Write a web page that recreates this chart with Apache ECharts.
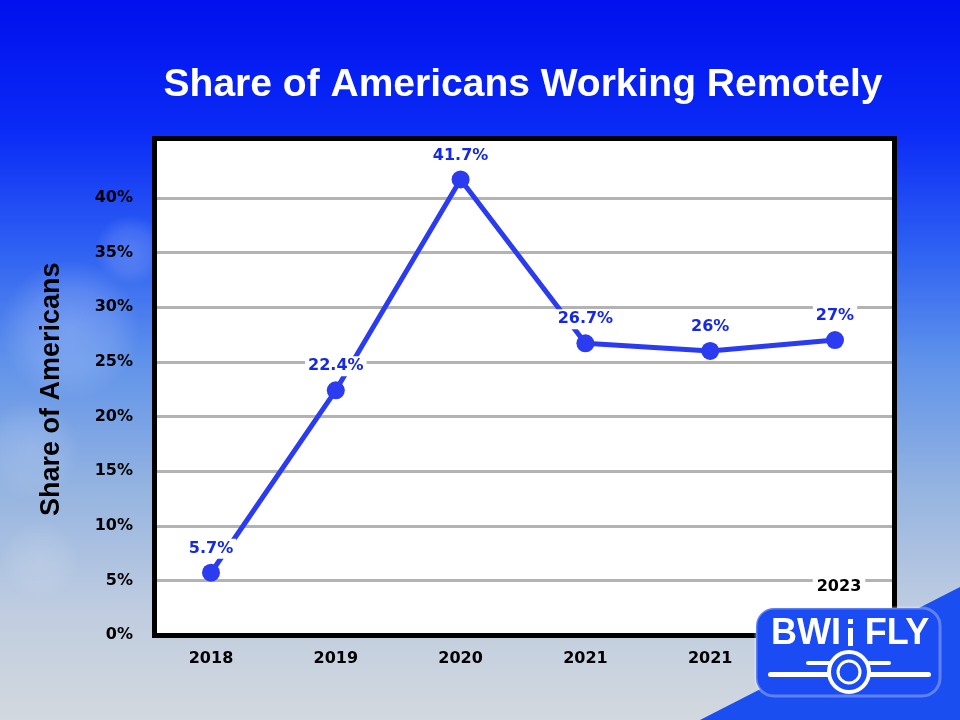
<!DOCTYPE html>
<html>
<head>
<meta charset="utf-8">
<script src="https://cdn.jsdelivr.net/npm/echarts@6/dist/echarts.min.js"></script>
<style>html,body{margin:0;padding:0;}#c{width:960px;height:720px;}</style>
</head>
<body>
<div id="c"></div>
<script>
const titleText = 'Share of Americans Working Remotely';
const yAxisName = 'Share of Americans';
const categories = ['2018', '2019', '2020', '2021', '2021', '2023'];
const shareValues = [5.7, 22.4, 41.7, 26.7, 26, 27];
const yTicks = [0, 5, 10, 15, 20, 25, 30, 35, 40];

const chart = echarts.init(document.getElementById('c'));
const lineColor = '#2b3cf0';
const labelColor = '#1528e4';
const tickFont = 'DejaVu Sans';

function cloud(cx, cy, rx, ry, a) {
  return { type: 'ellipse', z: -90, silent: true, shape: { cx: cx, cy: cy, rx: rx, ry: ry },
    style: { fill: new echarts.graphic.RadialGradient(0.5, 0.5, 0.5, [
      { offset: 0, color: 'rgba(255,255,255,' + a + ')' },
      { offset: 0.6, color: 'rgba(255,255,255,' + (a * 0.6) + ')' },
      { offset: 1, color: 'rgba(255,255,255,0)' }
    ]) } };
}

const option = {
  animation: false,
  title: {
    text: titleText,
    left: 518, top: 61, textAlign: 'center',
    textStyle: { color: '#ffffff', fontSize: 39, fontWeight: 'bold', fontFamily: 'Liberation Sans' }
  },
  grid: [
    { left: 148.6, right: 62.6, top: 143.4, bottom: 85 },
    { left: 155, right: 66, top: 143.4, bottom: 85 }
  ],
  xAxis: [{
    type: 'category', gridIndex: 0,
    data: categories,
    boundaryGap: true,
    axisLine: { show: false },
    axisTick: { show: false },
    splitLine: { show: false },
    axisLabel: { color: '#000', fontSize: 16, fontWeight: 'bold', fontFamily: tickFont, margin: 16 }
  }, {
    type: 'category', gridIndex: 1, data: categories, show: false
  }],
  yAxis: [{
    type: 'value', gridIndex: 0,
    min: 0, max: 45, interval: 5,
    axisLine: { show: false }, axisTick: { show: false },
    axisLabel: { show: false }, splitLine: { show: false }
  }, {
    type: 'value', gridIndex: 1,
    min: 0, max: 45, interval: 5,
    name: yAxisName,
    nameLocation: 'middle',
    nameRotate: 90,
    nameGap: 90,
    nameTextStyle: { color: '#000', fontSize: 27, fontWeight: 'bold', fontFamily: 'Liberation Sans' },
    axisLine: { show: false },
    axisTick: { show: false },
    axisLabel: {
      color: '#000', fontSize: 16, fontWeight: 'bold', fontFamily: tickFont, margin: 22,
      formatter: v => (yTicks.indexOf(v) >= 0 ? v + '%' : '')
    },
    splitLine: { show: true, showMaxLine: false, showMinLine: false, lineStyle: { color: '#b3b3b3', width: 3 } }
  }],
  series: [{
    type: 'line',
    xAxisIndex: 0, yAxisIndex: 0,
    data: shareValues,
    symbol: 'circle',
    symbolSize: 18,
    lineStyle: { color: lineColor, width: 5 },
    itemStyle: { color: lineColor },
    label: {
      show: true, position: 'top', distance: 5,
      formatter: p => p.value + '%',
      color: labelColor, fontSize: 16, fontWeight: 'bold', fontFamily: tickFont,
      backgroundColor: '#ffffff', padding: [2, 3]
    },
    z: 5
  }],
  graphic: [
    { type: 'rect', z: -100, silent: true, shape: { x: 0, y: 0, width: 960, height: 720 },
      style: { fill: new echarts.graphic.LinearGradient(0, 0, 0, 1, [
        { offset: 0, color: '#0010ee' },
        { offset: 0.18, color: '#0a2af6' },
        { offset: 0.35, color: '#2f62f2' },
        { offset: 0.5, color: '#5f92ea' },
        { offset: 0.68, color: '#95b4e0' },
        { offset: 0.85, color: '#c0cde0' },
        { offset: 1, color: '#d2d8de' }
      ]) } },
    cloud(70, 330, 110, 70, 0.22),
    cloud(130, 250, 35, 70, 0.18),
    cloud(30, 450, 70, 50, 0.15),
    cloud(40, 560, 80, 40, 0.12),
    { type: 'rect', z: -50, silent: true, shape: { x: 154.5, y: 138.5, width: 740, height: 497 },
      style: { fill: '#ffffff' } },
    { type: 'rect', z: 50, silent: true, shape: { x: 154.5, y: 138.5, width: 740, height: 497 },
      style: { fill: 'none', stroke: '#000000', lineWidth: 5 } },
    { type: 'text', z: 55, silent: true, x: 839, y: 587,
      style: { text: categories[categories.length - 1], fill: '#000', font: 'bold 16px "DejaVu Sans"',
        align: 'center', verticalAlign: 'middle', backgroundColor: '#ffffff', padding: [2, 4] } },
    { type: 'polygon', z: 60, silent: true, shape: { points: [[700, 720], [960, 587], [960, 720]] },
      style: { fill: '#1a4ef0' } },
    { type: 'rect', z: 61, silent: true, shape: { x: 756, y: 608, width: 184, height: 88, r: 18 },
      style: { fill: '#1b4bf2', stroke: 'rgba(255,255,255,0.3)', lineWidth: 3 } },
    { type: 'text', z: 62, silent: true, x: 806, y: 634,
      style: { text: 'BWI', fill: '#fff', font: 'bold 36px "Liberation Sans"', align: 'center', verticalAlign: 'middle' } },
    { type: 'rect', z: 62, silent: true, shape: { x: 848, y: 628, width: 5, height: 18 }, style: { fill: '#fff' } },
    { type: 'rect', z: 62, silent: true, shape: { x: 848, y: 619, width: 5, height: 5 }, style: { fill: '#fff' } },
    { type: 'text', z: 62, silent: true, x: 897, y: 634,
      style: { text: 'FLY', fill: '#fff', font: 'bold 36px "Liberation Sans"', align: 'center', verticalAlign: 'middle' } },
    { type: 'rect', z: 62, silent: true, shape: { x: 768, y: 672, width: 163, height: 5, r: 2.5 }, style: { fill: '#fff' } },
    { type: 'rect', z: 62, silent: true, shape: { x: 806, y: 661, width: 85, height: 4, r: 2 }, style: { fill: '#fff' } },
    { type: 'circle', z: 63, silent: true, shape: { cx: 849, cy: 672, r: 20 },
      style: { fill: '#1b4bf2', stroke: '#fff', lineWidth: 4 } },
    { type: 'circle', z: 64, silent: true, shape: { cx: 849, cy: 672, r: 11 },
      style: { fill: '#1b4bf2', stroke: '#fff', lineWidth: 3 } }
  ]
};
chart.setOption(option);
</script>
</body>
</html>
